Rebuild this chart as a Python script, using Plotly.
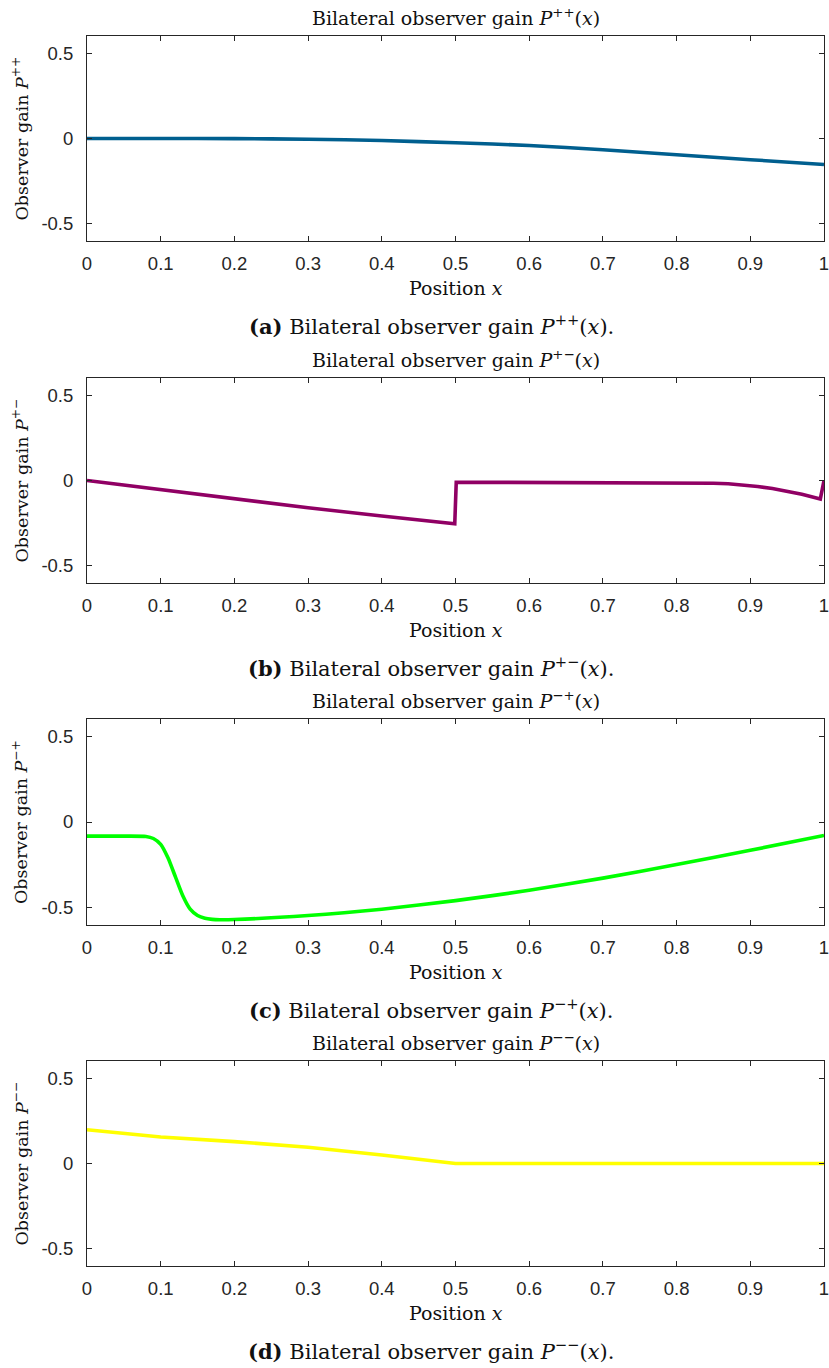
import plotly.graph_objects as go

W, H = 829, 1368

# ---- data ----
x_pp = [0.0, 0.1, 0.2, 0.3, 0.4, 0.5, 0.6, 0.7, 0.8, 0.9, 1.0]
y_pp = [0.0, 0.0, -0.001, -0.004, -0.012, -0.025, -0.041, -0.066, -0.095, -0.124, -0.152]

x_pm = [0.0, 0.1, 0.2, 0.3, 0.4, 0.499, 0.501, 0.6, 0.7, 0.8, 0.85, 0.87, 0.89, 0.91, 0.93, 0.95, 0.97, 0.995, 1.0]
y_pm = [0.0, -0.053, -0.108, -0.160, -0.208, -0.253, -0.01, -0.011, -0.012, -0.014, -0.016, -0.019, -0.025, -0.035, -0.047, -0.062, -0.080, -0.108, 0.0]

x_mp = [0.0, 0.05, 0.08, 0.09, 0.1, 0.11, 0.12, 0.13, 0.14, 0.15, 0.16, 0.17, 0.18, 0.2, 0.3, 0.4, 0.5, 0.6, 0.7, 0.8, 0.9, 1.0]
y_mp = [-0.082, -0.082, -0.084, -0.096, -0.13, -0.21, -0.32, -0.43, -0.508, -0.545, -0.561, -0.567, -0.569, -0.568, -0.545, -0.508, -0.458, -0.398, -0.327, -0.248, -0.165, -0.078]

x_mm = [0.0, 0.1, 0.2, 0.3, 0.4, 0.5, 0.6, 0.7, 0.8, 0.9, 1.0]
y_mm = [0.198, 0.155, 0.128, 0.095, 0.05, 0.0, 0.0, 0.0, 0.0, 0.0, 0.0]

x_ticks = [0, 0.1, 0.2, 0.3, 0.4, 0.5, 0.6, 0.7, 0.8, 0.9, 1]
x_tick_labels = ["0", "0.1", "0.2", "0.3", "0.4", "0.5", "0.6", "0.7", "0.8", "0.9", "1"]
y_ticks = [-0.5, 0, 0.5]
y_tick_labels = ["-0.5", "0", "0.5"]

sups = ["++", "+\u2212", "\u2212+", "\u2212\u2212"]
letters = ["a", "b", "c", "d"]
colors = ["#005f8f", "#900064", "#00ff00", "#ffff00"]
shapes = ["spline", "linear", "spline", "linear"]
series = [(x_pp, y_pp), (x_pm, y_pm), (x_mp, y_mp), (x_mm, y_mm)]

# ---- layout geometry (pixels) ----
plot_left, plot_right = 87, 824
panels = [(36, 241), (378, 583), (719, 925), (1061, 1266)]

SERIF = "DejaVu Serif"
SANS = "Liberation Sans"
AXC = "#262626"
TXT = "#111111"

fig = go.Figure()
annotations = []
layout_axes = {}

def py(px):
    return 1 - px / H

for i, ((xs, ys), (top, bot)) in enumerate(zip(series, panels)):
    n = "" if i == 0 else str(i + 1)
    line = dict(color=colors[i], width=3.6, shape=shapes[i])
    if shapes[i] == "spline":
        line["smoothing"] = 0.6
    fig.add_trace(go.Scatter(x=xs, y=ys, mode="lines", line=line,
                             xaxis="x" + n, yaxis="y" + n, showlegend=False,
                             hoverinfo="skip"))
    common = dict(showline=True, linecolor=AXC, linewidth=1, mirror="ticks",
                  ticks="inside", ticklen=5, tickcolor=AXC, tickwidth=1,
                  showgrid=False, zeroline=False, ticklabeloverflow="allow",
                  automargin=False,
                  tickfont=dict(family=SANS, size=18.5, color=AXC))
    layout_axes["xaxis" + n] = dict(common, domain=[plot_left / W, plot_right / W],
                                    range=[0, 1], tickvals=x_ticks, ticktext=x_tick_labels,
                                    anchor="y" + n, ticklabelstandoff=6)
    layout_axes["yaxis" + n] = dict(common, domain=[py(bot), py(top)],
                                    range=[-0.6, 0.6], tickvals=y_ticks, ticktext=y_tick_labels,
                                    anchor="x" + n, ticklabelstandoff=9)
    s = sups[i]
    cx = (plot_left + plot_right) / 2 / W
    # title
    annotations.append(dict(text=f"Bilateral observer gain <i>P</i><sup>{s}</sup>(<i>x</i>)",
                            x=cx, y=py(top - 19), xref="paper", yref="paper",
                            showarrow=False, xanchor="center", yanchor="middle",
                            font=dict(family=SERIF, size=19, color=TXT)))
    # x label
    annotations.append(dict(text="Position <i>x</i>",
                            x=cx, y=py(bot + 47), xref="paper", yref="paper",
                            showarrow=False, xanchor="center", yanchor="middle",
                            font=dict(family=SERIF, size=19, color=TXT)))
    # y label
    annotations.append(dict(text=f"Observer gain <i>P</i><sup>{s}</sup>",
                            x=20 / W, y=py((top + bot) / 2), xref="paper", yref="paper",
                            showarrow=False, xanchor="center", yanchor="middle", textangle=-90,
                            font=dict(family=SERIF, size=17.5, color=TXT)))
    # caption
    annotations.append(dict(text=f"<b>({letters[i]})</b> Bilateral observer gain <i>P</i><sup>{s}</sup>(<i>x</i>).",
                            x=431 / W, y=py(bot + 84), xref="paper", yref="paper",
                            showarrow=False, xanchor="center", yanchor="middle",
                            font=dict(family=SERIF, size=21, color=TXT)))

fig.update_layout(width=W, height=H, margin=dict(l=0, r=0, t=0, b=0, autoexpand=False),
                  paper_bgcolor="white", plot_bgcolor="white",
                  annotations=annotations, **layout_axes)

fig.write_html("out.html")
